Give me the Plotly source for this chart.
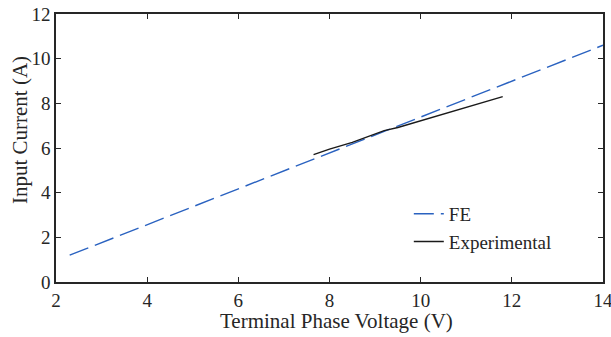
import plotly.graph_objects as go

fe_v = [2.3, 14.0]
fe_i = [1.2, 10.6]

exp_v = [7.65, 8.0, 8.5, 9.0, 9.2, 9.5, 10.0, 10.5, 11.0, 11.5, 11.8]
exp_i = [5.7, 5.95, 6.25, 6.62, 6.78, 6.92, 7.22, 7.5, 7.8, 8.1, 8.3]

x_ticks = [2, 4, 6, 8, 10, 12, 14]
y_ticks = [0, 2, 4, 6, 8, 10, 12]

font_family = "Liberation Serif, DejaVu Serif, serif"

fig = go.Figure()
fig.add_trace(go.Scatter(x=fe_v, y=fe_i, mode="lines", name="FE",
                         line=dict(color="#2a62c0", width=1.4, dash="20px,7px")))
fig.add_trace(go.Scatter(x=exp_v, y=exp_i, mode="lines", name="Experimental",
                         line=dict(color="#1a1a1a", width=1.4)))

axis_common = dict(showgrid=False, zeroline=False, showline=True, linecolor="#262626",
                   linewidth=1.6, mirror="ticks", ticks="inside", ticklen=5,
                   tickcolor="#262626", tickwidth=1.2, automargin=False,
                   ticklabeloverflow="allow",
                   tickfont=dict(family=font_family, size=19, color="#262626"))

fig.update_layout(
    width=611, height=337,
    margin=dict(l=56, r=8, t=14, b=55),
    paper_bgcolor="white", plot_bgcolor="white",
    font=dict(family=font_family, color="#262626"),
    xaxis=dict(range=[2, 14], tickvals=x_ticks, **axis_common),
    yaxis=dict(range=[0, 12], tickvals=y_ticks, **axis_common),
    legend=dict(x=0.645, y=0.325, xanchor="left", yanchor="top",
                bgcolor="rgba(0,0,0,0)", font=dict(size=19, family=font_family),
                tracegroupgap=0, itemwidth=30),
    showlegend=True,
    annotations=[
        dict(text="Terminal Phase Voltage (V)", xref="paper", yref="paper",
             x=0.513, y=-0.145, xanchor="center", yanchor="middle",
             showarrow=False, font=dict(size=21, family=font_family, color="#262626")),
        dict(text="Input Current (A)", xref="paper", yref="paper",
             x=-0.0658, y=0.567, xanchor="center", yanchor="middle", textangle=-90,
             showarrow=False, font=dict(size=21, family=font_family, color="#262626")),
    ],
)

fig.write_html("out.html", config={"displayModeBar": False},
               post_script="document.body.style.margin='0';")
